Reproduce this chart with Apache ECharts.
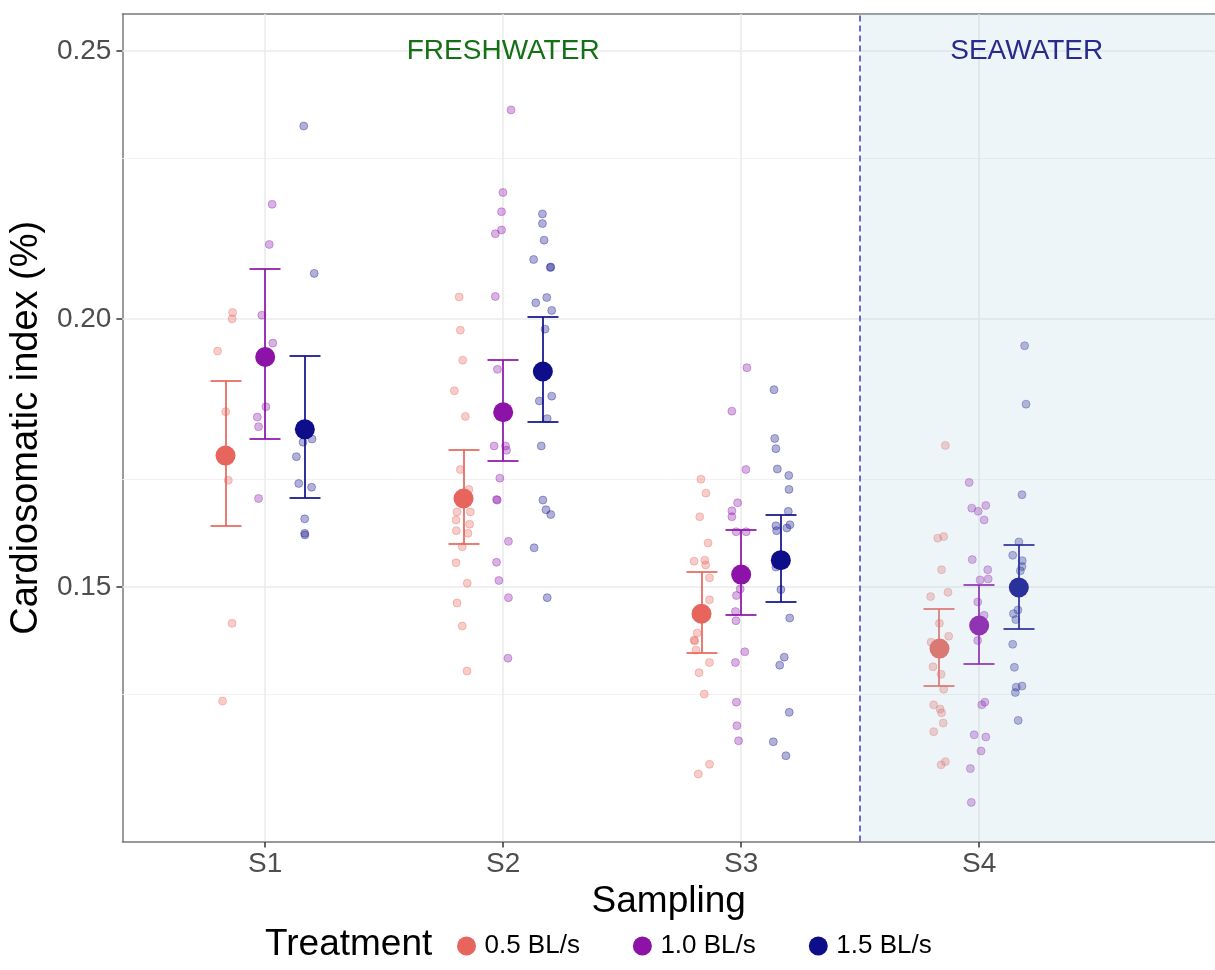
<!DOCTYPE html>
<html>
<head>
<meta charset="utf-8">
<script src="https://cdn.jsdelivr.net/npm/echarts@6.0.0/dist/echarts.min.js"></script>
<style>
  html, body { margin: 0; padding: 0; background: #ffffff; overflow: hidden; }
  #chart { width: 1215px; height: 970px; }
</style>
</head>
<body>
<div id="chart"></div>
<script>
// ---------- data ----------
const categories = ['S1', 'S2', 'S3', 'S4'];
const treatments = ['0.5 BL/s', '1.0 BL/s', '1.5 BL/s'];
const yTicks = [0.15, 0.20, 0.25];
const yMinorTicks = [0.125, 0.175, 0.225];
const xTicks = [1, 2, 3, 4];

const means05 = [0.1745, 0.1665, 0.1450, 0.1385];
const lo05    = [0.1614, 0.1580, 0.1376, 0.1315];
const hi05    = [0.1885, 0.1755, 0.1527, 0.1459];
const means10 = [0.1929, 0.1826, 0.1523, 0.1428];
const lo10    = [0.1776, 0.1735, 0.1448, 0.1356];
const hi10    = [0.2094, 0.1924, 0.1606, 0.1504];
const means15 = [0.1794, 0.1902, 0.1550, 0.1499];
const lo15    = [0.1666, 0.1807, 0.1471, 0.1422];
const hi15    = [0.1930, 0.2004, 0.1634, 0.1578];

// individual fish (jittered x position, index value)
const pts05 = [
  [0.863,0.2012],[0.861,0.2000],[0.800,0.1940],[0.834,0.1827],[0.845,0.1699],[0.861,0.1432],[0.821,0.1287],
  [1.815,0.2041],[1.820,0.1979],[1.830,0.1923],[1.795,0.1866],[1.841,0.1818],[1.820,0.1719],[1.856,0.1682],[1.806,0.1640],[1.862,0.1640],[1.802,0.1625],[1.859,0.1617],[1.803,0.1605],[1.852,0.1600],[1.828,0.1575],[1.802,0.1545],[1.849,0.1507],[1.806,0.1470],[1.828,0.1427],[1.848,0.1343],
  [2.831,0.1701],[2.852,0.1675],[2.826,0.1631],[2.861,0.1582],[2.802,0.1548],[2.847,0.1550],[2.851,0.1541],[2.867,0.1517],[2.867,0.1476],[2.815,0.1414],[2.802,0.1401],[2.805,0.1399],[2.810,0.1382],[2.867,0.1359],[2.823,0.1340],[2.845,0.1300],[2.867,0.1169],[2.820,0.1151],
  [3.858,0.1764],[3.826,0.1591],[3.851,0.1594],[3.842,0.1532],[3.869,0.1490],[3.796,0.1482],[3.833,0.1432],[3.872,0.1408],[3.798,0.1397],[3.806,0.1351],[3.840,0.1337],[3.851,0.1309],[3.809,0.1280],[3.836,0.1272],[3.842,0.1265],[3.849,0.1246],[3.809,0.1230],[3.840,0.1168],[3.858,0.1174]
];
const pts10 = [
  [1.029,0.2214],[1.017,0.2139],[0.986,0.2007],[1.032,0.1955],[1.003,0.1836],[0.967,0.1817],[0.972,0.1799],[0.972,0.1665],
  [2.033,0.2390],[1.999,0.2236],[1.993,0.2200],[1.967,0.2159],[1.993,0.2166],[1.967,0.2042],[1.976,0.1906],[1.962,0.1763],[2.010,0.1763],[2.014,0.1755],[1.986,0.1703],[1.972,0.1663],[1.975,0.1662],[2.022,0.1585],[1.972,0.1546],[1.982,0.1512],[2.022,0.1480],[2.020,0.1367],
  [3.024,0.1909],[2.961,0.1828],[3.020,0.1719],[2.985,0.1657],[2.961,0.1642],[2.961,0.1631],[2.979,0.1603],[3.021,0.1603],[2.996,0.1496],[2.980,0.1484],[2.976,0.1454],[2.978,0.1437],[3.015,0.1379],[2.976,0.1359],[2.980,0.1285],[2.982,0.1241],[2.989,0.1213],
  [3.958,0.1695],[3.969,0.1647],[3.996,0.1641],[4.028,0.1652],[4.021,0.1625],[3.971,0.1551],[4.036,0.1532],[4.004,0.1513],[4.038,0.1515],[3.994,0.1472],[4.021,0.1447],[3.994,0.1400],[4.024,0.1285],[4.011,0.1280],[3.979,0.1224],[4.028,0.1220],[4.008,0.1194],[3.963,0.1161],[3.967,0.1098]
];
const pts15 = [
  [1.162,0.2360],[1.206,0.2085],[1.159,0.1770],[1.197,0.1776],[1.131,0.1743],[1.141,0.1693],[1.195,0.1686],[1.166,0.1627],[1.166,0.1600],[1.167,0.1597],
  [2.165,0.2196],[2.165,0.2178],[2.172,0.2147],[2.128,0.2111],[2.200,0.2097],[2.198,0.2096],[2.137,0.2030],[2.183,0.2040],[2.204,0.2016],[2.176,0.1981],[2.204,0.1856],[2.152,0.1847],[2.185,0.1814],[2.160,0.1763],[2.167,0.1662],[2.180,0.1644],[2.200,0.1635],[2.130,0.1573],[2.185,0.1480],
  [3.138,0.1868],[3.141,0.1777],[3.146,0.1758],[3.152,0.1720],[3.200,0.1708],[3.201,0.1682],[3.198,0.1641],[3.146,0.1614],[3.149,0.1605],[3.192,0.1610],[3.205,0.1616],[3.146,0.1537],[3.167,0.1495],[3.204,0.1442],[3.181,0.1369],[3.162,0.1354],[3.202,0.1266],[3.135,0.1211],[3.188,0.1185],
  [4.191,0.1950],[4.197,0.1841],[4.180,0.1672],[4.167,0.1584],[4.141,0.1559],[4.181,0.1549],[4.180,0.1538],[4.173,0.1530],[4.163,0.1457],[4.144,0.1450],[4.154,0.1439],[4.141,0.1393],[4.148,0.1350],[4.156,0.1313],[4.180,0.1315],[4.152,0.1303],[4.164,0.1251]
];

const annotX = [2, 4.2];
const annotY = [0.25, 0.25];
const annotText = ['FRESHWATER', 'SEAWATER'];
const seawaterStart = 3.5;

// ---------- styling / layout ----------
const FONT = '"Liberation Sans", Arial, Helvetica, sans-serif';
const colors = ['#E7655C', '#8C12A8', '#0E0E8A'];
const errColors = ['rgba(231,101,92,0.85)', 'rgba(140,18,168,0.85)', 'rgba(14,14,138,0.85)'];
const annotColors = ['#157015', '#262B8C'];
const BORDER = { color: '#7a7a7a', width: 1.5 };
const dodge = [-1 / 6, 0, 1 / 6];
const X_MIN = 0.4, X_MAX = 4.991;
const Y_MIN = 0.1025, Y_MAX = 0.2569;

const meansAll = [means05, means10, means15];
const loAll = [lo05, lo10, lo15];
const hiAll = [hi05, hi10, hi15];
const ptsAll = [pts05, pts10, pts15];

const chart = echarts.init(document.getElementById('chart'), null, { renderer: 'canvas' });

const series = [];

// gridlines (drawn through the library's axes via markLine), kept beneath the marks
series.push({
  type: 'line', data: [], silent: true, z: 1,
  markLine: {
    z: 1,
    silent: true, symbol: 'none', label: { show: false }, animation: false,
    data: [
      ...yMinorTicks.map(v => ({ yAxis: v, lineStyle: { color: '#f2f2f2', width: 1, type: 'solid' } })),
      ...yTicks.map(v => ({ yAxis: v, lineStyle: { color: '#ebebeb', width: 1.6, type: 'solid' } })),
      ...xTicks.map(v => ({ xAxis: v, lineStyle: { color: '#ebebeb', width: 1.6, type: 'solid' } }))
    ]
  }
});

// jittered raw points
treatments.forEach((t, i) => {
  series.push({
    name: t + ' points', type: 'scatter', z: 2, silent: true,
    data: ptsAll[i], symbol: 'circle', symbolSize: 8,
    itemStyle: { color: colors[i], opacity: 0.33, borderColor: colors[i], borderWidth: 1 }
  });
});

// error bars
treatments.forEach((t, i) => {
  series.push({
    name: t + ' se', type: 'custom', z: 3, silent: true,
    data: categories.map((c, k) => [k + 1 + dodge[i], loAll[i][k], hiAll[i][k]]),
    encode: { x: 0, y: [1, 2] },
    renderItem: function (params, api) {
      const x = api.value(0);
      const pLo = api.coord([x, api.value(1)]);
      const pHi = api.coord([x, api.value(2)]);
      const cx = Math.round(pLo[0]);
      const yLo = Math.round(pLo[1]), yHi = Math.round(pHi[1]);
      const hw = 15.5;
      const style = { stroke: errColors[i], lineWidth: 2, fill: null };
      return {
        type: 'group', children: [
          { type: 'line', shape: { x1: cx, y1: yLo, x2: cx, y2: yHi }, style: style },
          { type: 'line', shape: { x1: cx - hw, y1: yHi, x2: cx + hw, y2: yHi }, style: style },
          { type: 'line', shape: { x1: cx - hw, y1: yLo, x2: cx + hw, y2: yLo }, style: style }
        ]
      };
    }
  });
});

// means
treatments.forEach((t, i) => {
  series.push({
    name: t, type: 'scatter', z: 4, silent: true,
    data: categories.map((c, k) => [k + 1 + dodge[i], meansAll[i][k]]),
    symbol: 'circle', symbolSize: 20,
    itemStyle: { color: colors[i], opacity: 1 }
  });
});

// seawater shading (drawn over the marks, semi-transparent) + dashed separator
series.push({
  type: 'line', data: [], silent: true, z: 5,
  markArea: {
    z: 5,
    silent: true, animation: false,
    itemStyle: { color: 'rgba(164,201,223,0.19)' },
    data: [[{ xAxis: seawaterStart }, { xAxis: X_MAX }]]
  },
  markLine: {
    z: 6,
    silent: true, symbol: 'none', label: { show: false }, animation: false,
    lineStyle: { color: '#4646C8', width: 1.6, type: [6, 4] },
    data: [{ xAxis: seawaterStart }]
  }
});

// annotations
series.push({
  type: 'scatter', z: 7, silent: true, symbolSize: 0,
  data: annotX.map((x, k) => ({
    value: [x, annotY[k]],
    label: {
      show: true, position: 'inside', formatter: annotText[k],
      color: annotColors[k], fontSize: 28, fontFamily: FONT,
      textBorderWidth: 0, opacity: 1
    }
  }))
});

const option = {
  animation: false,
  backgroundColor: '#ffffff',
  textStyle: { fontFamily: FONT },
  grid: {
    left: 121, top: 14, width: 1096, height: 827.5,
    show: false, containLabel: false
  },
  xAxis: [{
    type: 'value', min: X_MIN, max: X_MAX, position: 'bottom',
    name: 'Sampling', nameLocation: 'middle', nameGap: 37,
    nameTextStyle: { fontSize: 37, color: '#000', fontFamily: FONT },
    splitLine: { show: false },
    axisLine: { show: true, onZero: false, lineStyle: BORDER },
    axisTick: { show: true, customValues: xTicks, length: 6, lineStyle: { color: '#333', width: 1.5 } },
    axisLabel: {
      customValues: xTicks, fontSize: 28, color: '#4d4d4d', margin: 9, fontFamily: FONT,
      formatter: v => categories[Math.round(v) - 1] || ''
    }
  }, {
    // top edge of the panel border
    type: 'value', min: X_MIN, max: X_MAX, position: 'top',
    splitLine: { show: false },
    axisLine: { show: true, onZero: false, lineStyle: BORDER },
    axisTick: { show: false },
    axisLabel: { show: false }
  }],
  yAxis: {
    type: 'value', min: Y_MIN, max: Y_MAX,
    name: 'Cardiosomatic index (%)', nameLocation: 'middle', nameGap: 76,
    nameTextStyle: { fontSize: 38, color: '#000', fontFamily: FONT },
    splitLine: { show: false },
    axisLine: { show: true, onZero: false, lineStyle: BORDER },
    axisTick: { show: true, customValues: yTicks, length: 6, lineStyle: { color: '#333', width: 1.5 } },
    axisLabel: {
      customValues: yTicks, fontSize: 28, color: '#4d4d4d', margin: 11, fontFamily: FONT,
      formatter: v => v.toFixed(2)
    }
  },
  legend: {
    data: treatments, left: 452, top: 928, orient: 'horizontal',
    icon: 'circle', itemWidth: 26, itemHeight: 19, itemGap: 53,
    textStyle: { fontSize: 26, color: '#000', fontFamily: FONT },
    selectedMode: false
  },
  graphic: [{
    type: 'text', left: 265, top: 926,
    style: { text: 'Treatment', fontSize: 37, fill: '#000', font: '37px ' + FONT }
  }],
  series: series
};

chart.setOption(option);
</script>
</body>
</html>
